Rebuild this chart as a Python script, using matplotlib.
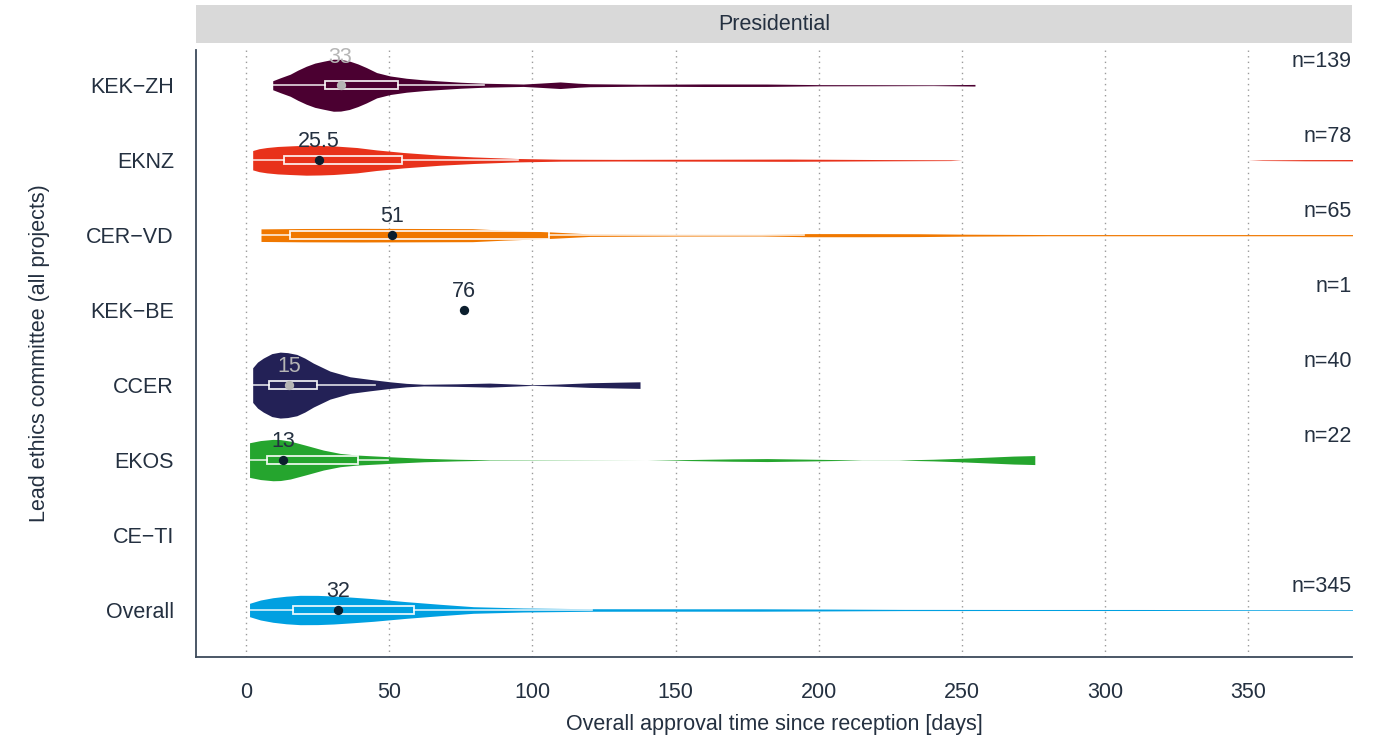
import numpy as np
import matplotlib
matplotlib.use('Agg')
import matplotlib.pyplot as plt

plt.rcParams['font.family'] = ['Liberation Sans', 'DejaVu Sans']

# committees, top to bottom
committees = ['KEK\u2212ZH', 'EKNZ', 'CER\u2212VD', 'KEK\u2212BE', 'CCER', 'EKOS', 'CE\u2212TI', 'Overall']
counts = [139, 78, 65, 1, 40, 22, None, 345]
colors = ['#4b0031', '#e8321b', '#f07800', '#0b1e2d', '#232156', '#25a52e', '#999999', '#00a0e1']

# box statistics in days: lower whisker, q1, median, q3, upper whisker
whisk_lo = [9.3, 2.3, 5.2, None, 2.3, 1.2, None, 1.2]
q1 = [27.4, 13.4, 15.4, None, 8.1, 7.2, None, 16.3]
medians = [33, 25.5, 51, 76, 15, 13, None, 32]
q3 = [53.2, 54.6, 105.9, None, 24.7, 39.2, None, 58.7]
whisk_hi = [83, 95, 195, None, 45, 49.7, None, 121]

# violin profiles: days and half-width (in rows)
kekzh_days = [9.3, 12, 15.4, 18, 21, 24, 27, 30.5, 33, 36, 39, 42, 45.6, 50.3, 56, 62, 67.8, 75,
              82.8, 96.8, 103, 109.7, 116, 120, 137.6, 160, 182, 200, 220, 240, 254.6]
kekzh_half = [0.06, 0.1, 0.147, 0.2, 0.253, 0.295, 0.32, 0.347, 0.345, 0.324, 0.285, 0.236, 0.169,
              0.124, 0.093, 0.072, 0.057, 0.04, 0.027, 0.016, 0.029, 0.044, 0.027, 0.02, 0.013,
              0.017, 0.016, 0.008, 0.007, 0.005, 0.011]

eknz_days = [2.3, 4.5, 7.2, 11, 15.4, 21, 26, 30.5, 38.7, 45.6, 54.9, 67.8, 79.4, 94.5, 110, 130,
             160, 190, 220, 246, 250, 350, 355, 370, 390]
eknz_half = [0.129, 0.153, 0.169, 0.183, 0.191, 0.2, 0.197, 0.191, 0.169, 0.137, 0.103, 0.067,
             0.044, 0.023, 0.013, 0.011, 0.013, 0.015, 0.009, 0.005, 0.0, 0.0, 0.004, 0.008, 0.009]

cervd_days = [5.2, 20, 40, 60, 79, 90, 106, 120, 150, 180, 196, 215, 235, 252, 280, 320, 360, 390]
cervd_half = [0.084, 0.089, 0.091, 0.089, 0.087, 0.067, 0.044, 0.017, 0.012, 0.011, 0.021, 0.021,
              0.019, 0.013, 0.008, 0.008, 0.008, 0.008]

ccer_days = [2.3, 4, 6, 9, 11.9, 14.5, 17.7, 20.5, 23.5, 29.3, 36.3, 43.3, 50.3, 56, 62, 73.6, 85,
             94.5, 100, 108.5, 120, 130, 137.6]
ccer_half = [0.231, 0.307, 0.36, 0.42, 0.44, 0.433, 0.409, 0.36, 0.293, 0.187, 0.111, 0.076, 0.044,
             0.023, 0.011, 0.017, 0.027, 0.013, 0.004, 0.013, 0.031, 0.039, 0.044]

ekos_days = [1.2, 5, 9.4, 12, 15.4, 21, 27, 32.8, 38.7, 50.3, 62, 73.6, 85, 140, 150, 170, 182, 195,
             205, 215, 228, 240, 250, 260, 268, 275.5]
ekos_half = [0.231, 0.26, 0.276, 0.273, 0.253, 0.196, 0.133, 0.089, 0.067, 0.044, 0.023, 0.011,
             0.003, 0.0, 0.004, 0.016, 0.02, 0.013, 0.007, 0.001, 0.001, 0.011, 0.024, 0.04,
             0.053, 0.06]

overall_days = [1.2, 5, 9.4, 14, 18.9, 25, 30.5, 37, 44.4, 56, 67.8, 79.4, 96.8, 120, 150, 180,
                200, 230, 270, 310, 350, 390]
overall_half = [0.089, 0.133, 0.164, 0.184, 0.196, 0.195, 0.187, 0.171, 0.151, 0.111, 0.076, 0.044,
                0.027, 0.017, 0.016, 0.016, 0.013, 0.008, 0.007, 0.007, 0.005, 0.005]

violins = {
    'KEK\u2212ZH': (kekzh_days, kekzh_half),
    'EKNZ': (eknz_days, eknz_half),
    'CER\u2212VD': (cervd_days, cervd_half),
    'CCER': (ccer_days, ccer_half),
    'EKOS': (ekos_days, ekos_half),
    'Overall': (overall_days, overall_half),
}

# committees whose median marker is drawn light on the dark violin
light_median = ['KEK\u2212ZH', 'CCER']
label_raise = {'KEK\u2212ZH': 0.37}

x_ticks = [0, 50, 100, 150, 200, 250, 300, 350]

txt = '#243040'
fs = 15.5

fig = plt.figure(figsize=(13.92, 7.44), dpi=100)
ax = fig.add_axes([196 / 1392, 1 - 657 / 744, 1156 / 1392, 607 / 744])

ypos = np.arange(len(committees))[::-1] + 1
for i, name in enumerate(committees):
    y = ypos[i]
    col = colors[i]
    if name in violins:
        d, h = violins[name]
        d = np.asarray(d)
        h = np.asarray(h)
        ax.fill_between(d, y - h, y + h, color=col, lw=0, zorder=2)
    if q1[i] is not None:
        bh = 0.055
        ax.plot([whisk_lo[i], q1[i]], [y, y], color='white', lw=1.2, alpha=0.85, zorder=3)
        ax.plot([q3[i], whisk_hi[i]], [y, y], color='white', lw=1.2, alpha=0.85, zorder=3)
        ax.add_patch(plt.Rectangle((q1[i], y - bh), q3[i] - q1[i], 2 * bh, fill=False,
                                   ec='white', lw=1.3, alpha=0.9, zorder=3))
    if medians[i] is not None:
        mc = '#b5b5b5' if name in light_median else '#0b1e2d'
        ax.scatter([medians[i]], [y], s=45, color=mc, zorder=4, lw=0)
        lab = ('%g' % medians[i])
        ax.text(medians[i], y + label_raise.get(name, 0.25), lab, color=mc if name in light_median else txt,
                fontsize=fs, ha='center', va='center', zorder=5)
    if counts[i] is not None:
        ax.text(1.0, y + 0.32, 'n=%d' % counts[i], transform=ax.get_yaxis_transform(),
                ha='right', va='center', fontsize=fs, color=txt)

ax.set_xlim(-17.5, 386.3)
ax.set_ylim(0.373, 8.47)
ax.set_yticks(ypos)
ax.set_yticklabels(committees)
ax.set_xticks(x_ticks)
ax.tick_params(length=0, labelsize=fs, labelcolor=txt)
ax.tick_params(axis='x', pad=18)
ax.tick_params(axis='y', pad=16)
ax.grid(axis='x', color='#9a9a9a', ls=(0, (1, 3)), lw=1.0)
ax.set_axisbelow(True)
for s in ['top', 'right']:
    ax.spines[s].set_visible(False)
for s in ['left', 'bottom']:
    ax.spines[s].set_color('#3d4a5a')
    ax.spines[s].set_linewidth(1.3)
ax.set_xlabel('Overall approval time since reception [days]', fontsize=fs, color=txt, labelpad=8)
ax.set_ylabel('Lead ethics committee (all projects)', fontsize=fs, color=txt, labelpad=26)

# facet strip
strip = fig.add_axes([196 / 1392, 1 - 43 / 744, 1156 / 1392, 38 / 744])
strip.set_facecolor('#d9d9d9')
strip.set_xticks([])
strip.set_yticks([])
for s in strip.spines.values():
    s.set_visible(False)
strip.text(0.5, 0.5, 'Presidential', ha='center', va='center', fontsize=fs, color=txt,
           transform=strip.transAxes)

fig.savefig('out.png', dpi=100)
